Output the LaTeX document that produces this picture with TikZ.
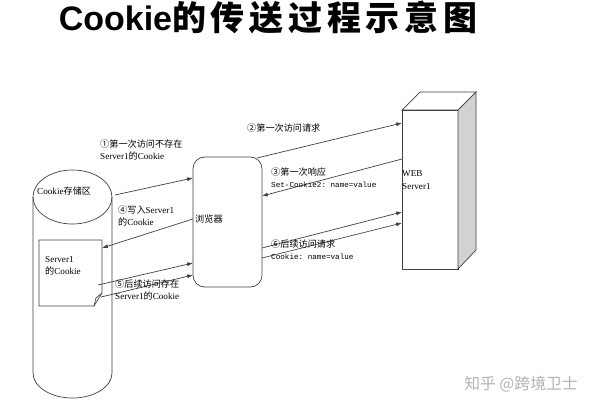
\documentclass[tikz,border=0pt]{standalone}
\usepackage{fontspec}
\setmainfont{Liberation Serif}
\setmonofont{Liberation Mono}
\newfontfamily\cjk{Noto Sans CJK SC}
\newfontfamily\cjktitle[LetterSpace=14]{Noto Sans CJK SC}
\newfontfamily\titlefont{Liberation Sans}
\newcommand{\zh}[1]{{\cjk #1}}
\usetikzlibrary{arrows.meta}

\tikzset{
  trait/.style={draw=gray!50!black, line width=0.6pt},
  fleche/.style={trait, -{Latex[length=5pt,width=3.5pt]}},
  etiq/.style={inner sep=0pt, anchor=west, align=left, font=\fontsize{7.8}{10.5}\selectfont}
}

\begin{document}
\begin{tikzpicture}[x=0.03cm, y=-0.03cm]
        \useasboundingbox (0,0) rectangle (600,400);
        % Titre
        \node (titre) at (268,18) {\fontsize{29}{29}\selectfont\bfseries
          {\titlefont Cookie}{\cjktitle 的传送过程示意图}};
        
        % Stockage (cylindre)
        \draw[trait] (72.5,197) ellipse (39.5 and 27);
        \draw[trait] (33,197) -- (33,373) arc (180:360:39.5 and -25) -- (112,197);
        
        % Document Server1
        \draw[trait, fill=white] (39,240) -- (102,240) -- (102,293) -- (94,306) -- (39,306) -- cycle;
        \draw[trait] (94,306) -- (96,298) -- (102,293);
        
        % Navigateur
        \draw[trait, rounded corners=10] (193,157) rectangle (262,287);
        
        % Serveur
        \draw[trait, fill=white] (402,110) rectangle (458,269);
        \draw[trait, fill=white] (402,110) -- (420,92) -- (476,92) -- (458,110) -- cycle;
        \draw[trait, fill=gray!35] (458,110) -- (476,92) -- (476,250) -- (458,269) -- cycle;
        
        % Points des flèches
        \coordinate (a1s) at (115,195);  \coordinate (a1e) at (193,178);
        \coordinate (a2s) at (257,158);  \coordinate (a2e) at (402,123);
        \coordinate (a3s) at (402,159);  \coordinate (a3e) at (262,196);
        \coordinate (a4s) at (193,219);  \coordinate (a4e) at (102,248);
        \coordinate (a5s) at (98,285);   \coordinate (a5e) at (193,263);
        \coordinate (a5t) at (101,297);  \coordinate (a5f) at (193,275);
        \coordinate (a6s) at (262,248);  \coordinate (a6e) at (402,212);
        \coordinate (a6t) at (262,258);  \coordinate (a6f) at (402,223);
        
        % Flèches
        \draw[fleche] (a1s) -- (a1e);
        \draw[fleche] (a2s) -- (a2e);
        \draw[fleche] (a3s) -- (a3e);
        \draw[fleche] (a4s) -- (a4e);
        \draw[fleche] (a5s) -- (a5e);
        \draw[fleche] (a5t) -- (a5f);
        \draw[fleche] (a6s) -- (a6e);
        \draw[fleche] (a6t) -- (a6f);
        
        % Étiquettes
        \node[etiq] (stock) at (37,191) {Cookie\zh{存储区}};
        \node[etiq] (doc) at (45,266) {Server1\\\zh{的}Cookie};
        \node[etiq] (nav) at (195,219) {\zh{浏览器}};
        \node[etiq] (web) at (402,180) {WEB\\Server1};
        \node[etiq] (lab1) at (100,150) {\zh{①第一次访问不存在}\\Server1\zh{的}Cookie};
        \node[etiq] (lab2) at (247,128) {\zh{②第一次访问请求}};
        \node[etiq] (lab3) at (271,178) {\zh{③第一次响应}\\{\ttfamily\fontsize{6.5}{10.5}\selectfont Set-Cookie2: name=value}};
        \node[etiq] (lab4) at (118,216) {\zh{④写入}Server1\\\zh{的}Cookie};
        \node[etiq] (lab5) at (115,290) {\zh{⑤后续访问存在}\\Server1\zh{的}Cookie};
        \node[etiq] (lab6) at (271,250) {\zh{⑥后续访问请求}\\{\ttfamily\fontsize{6.5}{10.5}\selectfont Cookie: name=value}};
        
        % Filigrane
        \node[text=gray!60, font=\cjk\fontsize{13.5}{13.5}\selectfont] (fil) at (521,384) {知乎 @跨境卫士};
    \end{tikzpicture}
\end{document}
